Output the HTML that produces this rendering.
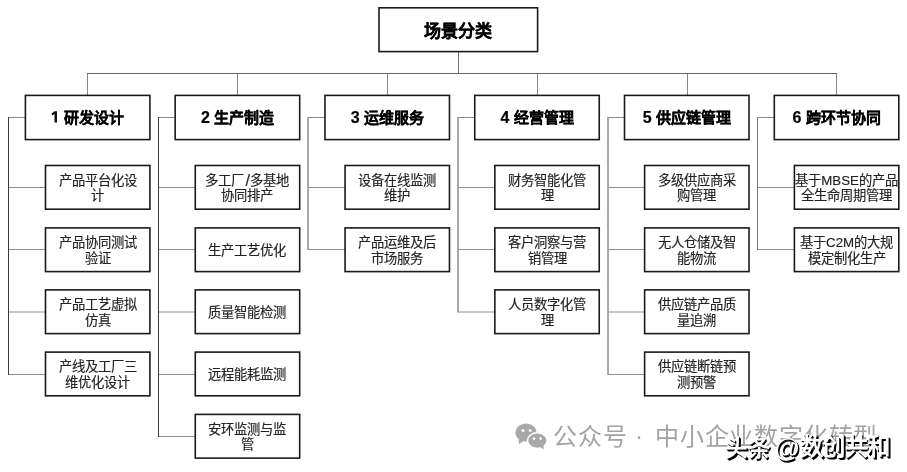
<!DOCTYPE html>
<html lang="zh-CN"><head><meta charset="utf-8"><title>场景分类</title>
<style>
html,body{margin:0;padding:0;background:#fff;}
body{filter:blur(0.3px);}
body{width:907px;height:472px;overflow:hidden;position:relative;font-family:"Liberation Sans",sans-serif;}
svg.g{position:absolute;left:0;top:0;}
.t{position:absolute;display:flex;align-items:center;justify-content:center;text-align:center;white-space:nowrap;}
.t>span{display:block;}
.top{font-size:17px;font-weight:bold;color:#000;-webkit-text-stroke:0.25px #000;}
.cat{font-size:15px;font-weight:bold;color:#000;-webkit-text-stroke:0.2px #000;}
.ch{font-size:13.3px;line-height:15.5px;color:#222;-webkit-text-stroke:0.15px #222;}
.ch>span{transform:translateY(1.4px);}
.n{font-size:16px;}
.n1{color:transparent;-webkit-text-stroke:0 transparent;}
.cat>span{transform:translateY(-0.6px);}
.wm{position:absolute;white-space:nowrap;}
.wm1{left:553px;top:417px;font-size:24px;color:#a3a3a3;letter-spacing:0.8px;}
.at{font-weight:normal;font-size:25.5px;position:relative;top:1.5px;letter-spacing:0;margin-left:-3.5px;margin-right:0px;}
.wm2{left:725px;top:428.5px;font-size:22.4px;letter-spacing:0.8px;color:#fff;font-weight:bold;text-shadow:1px 1px 0 #000,1.5px 1.5px 0 #000;}
</style></head><body>
<svg class="g" width="907" height="472" viewBox="0 0 907 472">
<line x1="458.50" y1="51.60" x2="458.50" y2="73.00" stroke="#707070" stroke-width="1.0"/>
<line x1="87.00" y1="73.50" x2="837.00" y2="73.50" stroke="#666" stroke-width="1.0"/>
<line x1="87.50" y1="74.00" x2="87.50" y2="95.40" stroke="#858585" stroke-width="1.0"/>
<line x1="8.50" y1="117.00" x2="8.50" y2="375.00" stroke="#3a3a3a" stroke-width="1.0"/>
<line x1="9.00" y1="117.50" x2="25.40" y2="117.50" stroke="#8a8a8a" stroke-width="1.0"/>
<line x1="9.00" y1="187.50" x2="45.50" y2="187.50" stroke="#8f8f8f" stroke-width="1.0"/>
<line x1="9.00" y1="249.50" x2="45.50" y2="249.50" stroke="#8f8f8f" stroke-width="1.0"/>
<line x1="9.00" y1="312.00" x2="45.50" y2="312.00" stroke="#8f8f8f" stroke-width="1.0"/>
<line x1="9.00" y1="374.50" x2="45.50" y2="374.50" stroke="#8f8f8f" stroke-width="1.0"/>
<line x1="237.50" y1="74.00" x2="237.50" y2="95.40" stroke="#858585" stroke-width="1.0"/>
<line x1="158.50" y1="117.00" x2="158.50" y2="437.00" stroke="#3a3a3a" stroke-width="1.0"/>
<line x1="159.00" y1="117.50" x2="175.18" y2="117.50" stroke="#8a8a8a" stroke-width="1.0"/>
<line x1="159.00" y1="187.50" x2="195.28" y2="187.50" stroke="#8f8f8f" stroke-width="1.0"/>
<line x1="159.00" y1="249.50" x2="195.28" y2="249.50" stroke="#8f8f8f" stroke-width="1.0"/>
<line x1="159.00" y1="312.00" x2="195.28" y2="312.00" stroke="#8f8f8f" stroke-width="1.0"/>
<line x1="159.00" y1="374.50" x2="195.28" y2="374.50" stroke="#8f8f8f" stroke-width="1.0"/>
<line x1="159.00" y1="436.50" x2="195.28" y2="436.50" stroke="#8f8f8f" stroke-width="1.0"/>
<line x1="387.50" y1="74.00" x2="387.50" y2="95.40" stroke="#858585" stroke-width="1.0"/>
<line x1="308.00" y1="117.00" x2="308.00" y2="250.00" stroke="#555" stroke-width="1.0"/>
<line x1="308.50" y1="117.50" x2="324.96" y2="117.50" stroke="#8a8a8a" stroke-width="1.0"/>
<line x1="308.50" y1="187.50" x2="345.06" y2="187.50" stroke="#8f8f8f" stroke-width="1.0"/>
<line x1="308.50" y1="249.50" x2="345.06" y2="249.50" stroke="#8f8f8f" stroke-width="1.0"/>
<line x1="537.50" y1="74.00" x2="537.50" y2="95.40" stroke="#858585" stroke-width="1.0"/>
<line x1="458.00" y1="117.00" x2="458.00" y2="312.50" stroke="#555" stroke-width="1.0"/>
<line x1="458.50" y1="117.50" x2="474.74" y2="117.50" stroke="#8a8a8a" stroke-width="1.0"/>
<line x1="458.50" y1="187.50" x2="494.84" y2="187.50" stroke="#8f8f8f" stroke-width="1.0"/>
<line x1="458.50" y1="249.50" x2="494.84" y2="249.50" stroke="#8f8f8f" stroke-width="1.0"/>
<line x1="458.50" y1="312.00" x2="494.84" y2="312.00" stroke="#8f8f8f" stroke-width="1.0"/>
<line x1="687.50" y1="74.00" x2="687.50" y2="95.40" stroke="#858585" stroke-width="1.0"/>
<line x1="608.00" y1="117.00" x2="608.00" y2="375.00" stroke="#555" stroke-width="1.0"/>
<line x1="608.50" y1="117.50" x2="624.52" y2="117.50" stroke="#8a8a8a" stroke-width="1.0"/>
<line x1="608.50" y1="187.50" x2="644.62" y2="187.50" stroke="#8f8f8f" stroke-width="1.0"/>
<line x1="608.50" y1="249.50" x2="644.62" y2="249.50" stroke="#8f8f8f" stroke-width="1.0"/>
<line x1="608.50" y1="312.00" x2="644.62" y2="312.00" stroke="#8f8f8f" stroke-width="1.0"/>
<line x1="608.50" y1="374.50" x2="644.62" y2="374.50" stroke="#8f8f8f" stroke-width="1.0"/>
<line x1="836.50" y1="74.00" x2="836.50" y2="95.40" stroke="#858585" stroke-width="1.0"/>
<line x1="757.50" y1="117.00" x2="757.50" y2="250.00" stroke="#777" stroke-width="1.0"/>
<line x1="758.00" y1="117.50" x2="774.30" y2="117.50" stroke="#8a8a8a" stroke-width="1.0"/>
<line x1="758.00" y1="187.50" x2="794.40" y2="187.50" stroke="#8f8f8f" stroke-width="1.0"/>
<line x1="758.00" y1="249.50" x2="794.40" y2="249.50" stroke="#8f8f8f" stroke-width="1.0"/>
<rect x="379.00" y="7.80" width="158.60" height="43.80" fill="#fff" stroke="#1a1a1a" stroke-width="1.6"/>
<rect x="25.40" y="95.40" width="124.50" height="44.20" fill="#fff" stroke="#1a1a1a" stroke-width="1.6"/>
<rect x="45.50" y="165.50" width="104.40" height="43.70" fill="#fff" stroke="#1a1a1a" stroke-width="1.6"/>
<rect x="45.50" y="227.90" width="104.40" height="43.70" fill="#fff" stroke="#1a1a1a" stroke-width="1.6"/>
<rect x="45.50" y="289.90" width="104.40" height="43.70" fill="#fff" stroke="#1a1a1a" stroke-width="1.6"/>
<rect x="45.50" y="352.10" width="104.40" height="43.70" fill="#fff" stroke="#1a1a1a" stroke-width="1.6"/>
<rect x="175.18" y="95.40" width="124.50" height="44.20" fill="#fff" stroke="#1a1a1a" stroke-width="1.6"/>
<rect x="195.28" y="165.50" width="104.40" height="43.70" fill="#fff" stroke="#1a1a1a" stroke-width="1.6"/>
<rect x="195.28" y="227.90" width="104.40" height="43.70" fill="#fff" stroke="#1a1a1a" stroke-width="1.6"/>
<rect x="195.28" y="289.90" width="104.40" height="43.70" fill="#fff" stroke="#1a1a1a" stroke-width="1.6"/>
<rect x="195.28" y="352.10" width="104.40" height="43.70" fill="#fff" stroke="#1a1a1a" stroke-width="1.6"/>
<rect x="195.28" y="414.40" width="104.40" height="43.70" fill="#fff" stroke="#1a1a1a" stroke-width="1.6"/>
<rect x="324.96" y="95.40" width="124.50" height="44.20" fill="#fff" stroke="#1a1a1a" stroke-width="1.6"/>
<rect x="345.06" y="165.50" width="104.40" height="43.70" fill="#fff" stroke="#1a1a1a" stroke-width="1.6"/>
<rect x="345.06" y="227.90" width="104.40" height="43.70" fill="#fff" stroke="#1a1a1a" stroke-width="1.6"/>
<rect x="474.74" y="95.40" width="124.50" height="44.20" fill="#fff" stroke="#1a1a1a" stroke-width="1.6"/>
<rect x="494.84" y="165.50" width="104.40" height="43.70" fill="#fff" stroke="#1a1a1a" stroke-width="1.6"/>
<rect x="494.84" y="227.90" width="104.40" height="43.70" fill="#fff" stroke="#1a1a1a" stroke-width="1.6"/>
<rect x="494.84" y="289.90" width="104.40" height="43.70" fill="#fff" stroke="#1a1a1a" stroke-width="1.6"/>
<rect x="624.52" y="95.40" width="124.50" height="44.20" fill="#fff" stroke="#1a1a1a" stroke-width="1.6"/>
<rect x="644.62" y="165.50" width="104.40" height="43.70" fill="#fff" stroke="#1a1a1a" stroke-width="1.6"/>
<rect x="644.62" y="227.90" width="104.40" height="43.70" fill="#fff" stroke="#1a1a1a" stroke-width="1.6"/>
<rect x="644.62" y="289.90" width="104.40" height="43.70" fill="#fff" stroke="#1a1a1a" stroke-width="1.6"/>
<rect x="644.62" y="352.10" width="104.40" height="43.70" fill="#fff" stroke="#1a1a1a" stroke-width="1.6"/>
<rect x="774.30" y="95.40" width="124.50" height="44.20" fill="#fff" stroke="#1a1a1a" stroke-width="1.6"/>
<rect x="794.40" y="165.50" width="104.40" height="43.70" fill="#fff" stroke="#1a1a1a" stroke-width="1.6"/>
<rect x="794.40" y="227.90" width="104.40" height="43.70" fill="#fff" stroke="#1a1a1a" stroke-width="1.6"/>
<path d="M54.5 111.3 L57.0 111.3 L57.0 122.6 L54.5 122.6 L54.5 114.0 L52.3 115.4 L51.6 113.6 Z" fill="#111"/>
<g fill="#a8a8a8">
<ellipse cx="526" cy="432.6" rx="10.6" ry="9"/>
<path d="M518.5 439 L519 444.2 L524 440.5 z"/>
<ellipse cx="537.3" cy="440.6" rx="9.8" ry="7.8" stroke="#fff" stroke-width="1.4"/>
<path d="M539.5 446.5 L543.6 449.4 L543.4 444 z"/>
<circle cx="523" cy="430.6" r="1.5" fill="#fff"/><circle cx="530.2" cy="430.6" r="1.5" fill="#fff"/>
<circle cx="534" cy="438.6" r="1.3" fill="#fff"/><circle cx="540.5" cy="438.6" r="1.3" fill="#fff"/>
</g>
</svg>
<div class="t top" style="left:379.00px;top:7.80px;width:158.60px;height:43.80px"><span>场景分类</span></div>
<div class="t cat" style="left:25.40px;top:95.40px;width:124.50px;height:44.20px"><span><b class="n n1">1</b> 研发设计</span></div>
<div class="t ch" style="left:45.50px;top:165.50px;width:104.40px;height:43.70px"><span>产品平台化设<br>计</span></div>
<div class="t ch" style="left:45.50px;top:227.90px;width:104.40px;height:43.70px"><span>产品协同测试<br>验证</span></div>
<div class="t ch" style="left:45.50px;top:289.90px;width:104.40px;height:43.70px"><span>产品工艺虚拟<br>仿真</span></div>
<div class="t ch" style="left:45.50px;top:352.10px;width:104.40px;height:43.70px"><span>产线及工厂三<br>维优化设计</span></div>
<div class="t cat" style="left:175.18px;top:95.40px;width:124.50px;height:44.20px"><span><b class="n">2</b> 生产制造</span></div>
<div class="t ch" style="left:195.28px;top:165.50px;width:104.40px;height:43.70px"><span>多工厂<span style="margin:0 0.6px 0 1px;font-size:16px;line-height:0;position:relative;top:1px">/</span>多基地<br>协同排产</span></div>
<div class="t ch" style="left:195.28px;top:227.90px;width:104.40px;height:43.70px"><span>生产工艺优化</span></div>
<div class="t ch" style="left:195.28px;top:289.90px;width:104.40px;height:43.70px"><span>质量智能检测</span></div>
<div class="t ch" style="left:195.28px;top:352.10px;width:104.40px;height:43.70px"><span>远程能耗监测</span></div>
<div class="t ch" style="left:195.28px;top:414.40px;width:104.40px;height:43.70px"><span>安环监测与监<br>管</span></div>
<div class="t cat" style="left:324.96px;top:95.40px;width:124.50px;height:44.20px"><span><b class="n">3</b> 运维服务</span></div>
<div class="t ch" style="left:345.06px;top:165.50px;width:104.40px;height:43.70px"><span>设备在线监测<br>维护</span></div>
<div class="t ch" style="left:345.06px;top:227.90px;width:104.40px;height:43.70px"><span>产品运维及后<br>市场服务</span></div>
<div class="t cat" style="left:474.74px;top:95.40px;width:124.50px;height:44.20px"><span><b class="n">4</b> 经营管理</span></div>
<div class="t ch" style="left:494.84px;top:165.50px;width:104.40px;height:43.70px"><span>财务智能化管<br>理</span></div>
<div class="t ch" style="left:494.84px;top:227.90px;width:104.40px;height:43.70px"><span>客户洞察与营<br>销管理</span></div>
<div class="t ch" style="left:494.84px;top:289.90px;width:104.40px;height:43.70px"><span>人员数字化管<br>理</span></div>
<div class="t cat" style="left:624.52px;top:95.40px;width:124.50px;height:44.20px"><span><b class="n">5</b> 供应链管理</span></div>
<div class="t ch" style="left:644.62px;top:165.50px;width:104.40px;height:43.70px"><span>多级供应商采<br>购管理</span></div>
<div class="t ch" style="left:644.62px;top:227.90px;width:104.40px;height:43.70px"><span>无人仓储及智<br>能物流</span></div>
<div class="t ch" style="left:644.62px;top:289.90px;width:104.40px;height:43.70px"><span>供应链产品质<br>量追溯</span></div>
<div class="t ch" style="left:644.62px;top:352.10px;width:104.40px;height:43.70px"><span>供应链断链预<br>测预警</span></div>
<div class="t cat" style="left:774.30px;top:95.40px;width:124.50px;height:44.20px"><span><b class="n">6</b> 跨环节协同</span></div>
<div class="t ch" style="left:794.40px;top:165.50px;width:104.40px;height:43.70px"><span>基于MBSE的产品<br>全生命周期管理</span></div>
<div class="t ch" style="left:794.40px;top:227.90px;width:104.40px;height:43.70px"><span>基于C2M的大规<br>模定制化生产</span></div>
<div class="wm wm1">公众号</div><div class="wm wm1" style="left:635px;top:421.5px">·</div><div class="wm wm1" style="left:655px">中小企业数字化转型</div>
<div class="wm wm2">头条 <span class="at">@</span><span style="letter-spacing:-0.6px;font-size:23.4px;position:relative;top:-1px">数创共和</span></div>
</body></html>
